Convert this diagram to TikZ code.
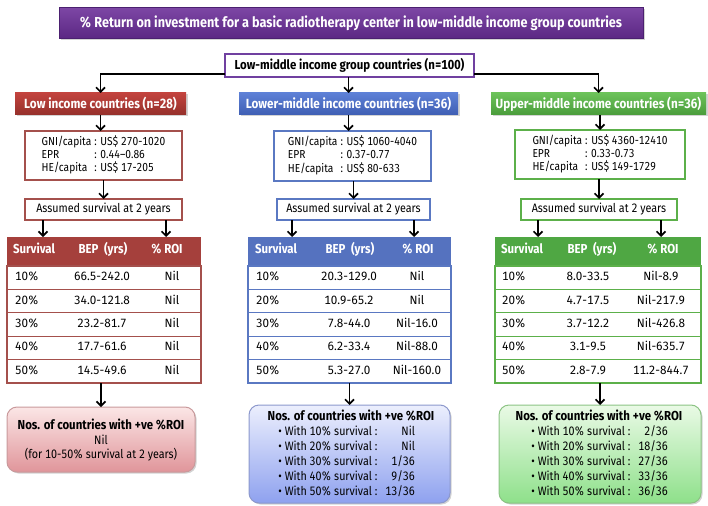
\documentclass[tikz,border=0pt]{standalone}
\usepackage{fontspec}
\setmainfont{Fira Sans}[FakeStretch=0.88, Numbers={Lining,Monospaced}]
\newfontfamily\cellfont{Fira Sans}[FakeStretch=0.97, Numbers={Lining,Monospaced}]
\usetikzlibrary{arrows.meta,shadows}
\definecolor{purpT}{HTML}{7D47A5}
\definecolor{purpB}{HTML}{5B2783}
\definecolor{purpD}{HTML}{4B2070}
\definecolor{purpL}{HTML}{7040A0}
\definecolor{redT}{HTML}{C2433E}
\definecolor{redB}{HTML}{95302B}
\definecolor{bluT}{HTML}{5D80D6}
\definecolor{bluB}{HTML}{3F5EB3}
\definecolor{grnT}{HTML}{6CC25A}
\definecolor{grnB}{HTML}{4A9C3B}
\definecolor{redH}{HTML}{A5403C}
\definecolor{redL}{HTML}{A4504C}
\definecolor{bluH}{HTML}{5572BF}
\definecolor{bluL}{HTML}{5A78C2}
\definecolor{grnH}{HTML}{4FA743}
\definecolor{grnL}{HTML}{5CB04A}
\definecolor{pinkT}{HTML}{FBE6E6}
\definecolor{pinkB}{HTML}{E0959A}
\definecolor{pinkD}{HTML}{C99A9C}
\definecolor{lbluT}{HTML}{ECEFFD}
\definecolor{lbluB}{HTML}{8EA1EF}
\definecolor{lbluD}{HTML}{8C98CC}
\definecolor{lgrnT}{HTML}{EAFAE6}
\definecolor{lgrnB}{HTML}{8EE08A}
\definecolor{lgrnD}{HTML}{8CC384}
\begin{document}
\begin{tikzpicture}[x=1pt,y=-1pt,
  every node/.style={inner sep=0pt, outer sep=0pt, font=\fontsize{12.2}{14}\selectfont},
  conn/.style={line width=1.7pt, -{Straight Barb[length=4.5pt,width=9pt]}},
  shad/.style={drop shadow={opacity=0.35, shadow xshift=1.5pt, shadow yshift=-1.5pt}},
  titlebox/.style={shad, draw=purpD, line width=0.6pt, top color=purpT, bottom color=purpB, text=white,
    font=\fontsize{14.4}{16}\selectfont\bfseries},
  topbox/.style={draw=purpL, line width=1.6pt, fill=white, font=\fontsize{13}{14}\selectfont\bfseries},
  catbox/.style={shad, minimum height=22, text=white, font=\fontsize{13.3}{14}\selectfont\bfseries},
  infobox/.style={line width=2pt, fill=white, font=\fontsize{11.6}{13}\selectfont},
  asbox/.style={line width=2pt, fill=white, minimum height=21},
  cell/.style={text height=8.5pt, text depth=2.5pt},
  dat/.style={cell, font=\fontsize{12}{14}\cellfont},
  hdr/.style={cell, text=white, font=\fontsize{13}{14}\selectfont\bfseries},
  botbox/.style={shad, rounded corners=10pt, line width=1pt},
  lst/.style={font=\fontsize{12.2}{15}\selectfont}
]
\useasboundingbox (0,0) rectangle (708,505);

% title and top level
\node[titlebox, minimum width=584, minimum height=31] (title) at (351,23)
  {\% Return on investment for a basic radiotherapy center in low-middle income group countries};
\node[topbox, minimum width=249, minimum height=23] (top) at (349.5,65.5) {Low-middle income group countries (n=100)};

\node[catbox, top color=redT, bottom color=redB, minimum width=171] (low) at (100.5,104) {Low income countries (n=28)};
\node[catbox, top color=bluT, bottom color=bluB, minimum width=219] (lmid) at (348.5,104) {Lower-middle income countries (n=36)};
\node[catbox, top color=grnT, bottom color=grnB, minimum width=215] (umid) at (598.5,104) {Upper-middle income countries (n=36)};

\draw[conn] ([yshift=3pt]top.south west) -| (low.north);
\draw[conn] (top.south -| lmid.north) -- (lmid.north);
\draw[conn] ([yshift=3pt]top.south east) -| (umid.north);

% info boxes
\node[infobox, draw=redL, minimum width=157, minimum height=49] (infoL) at (103.5,155.5)
  {\begin{tabular}{@{}l@{\hspace{3pt}}l@{}}GNI/capita & : US\$ 270-1020\\ EPR & : 0.44--0.86\\ HE/capita & : US\$ 17-205\end{tabular}};
\node[infobox, draw=bluL, minimum width=157, minimum height=50] (infoM) at (352.5,156)
  {\begin{tabular}{@{}l@{\hspace{3pt}}l@{}}GNI/capita & : US\$ 1060-4040\\ EPR & : 0.37-0.77\\ HE/capita & : US\$ 80-633\end{tabular}};
\node[infobox, draw=grnL, minimum width=170, minimum height=49] (infoR) at (600,154.5)
  {\begin{tabular}{@{}l@{\hspace{3pt}}l@{}}GNI/capita & : US\$ 4360-12410\\ EPR & : 0.33-0.73\\ HE/capita & : US\$ 149-1729\end{tabular}};

\draw[conn] (low.south) -- (low.south |- infoL.north);
\draw[conn] (lmid.south) -- (lmid.south |- infoM.north);
\draw[conn] (umid.south -| infoR.north) -- (infoR.north);

% assumed survival boxes
\node[asbox, draw=redL, minimum width=157] (asL) at (103.5,209.5) {Assumed survival at 2 years};
\node[asbox, draw=bluL, minimum width=153] (asM) at (353.5,209.5) {Assumed survival at 2 years};
\node[asbox, draw=grnL, minimum width=156] (asR) at (599,209.5) {Assumed survival at 2 years};

\draw[conn] (infoL.south -| asL.north) -- (asL.north);
\draw[conn] (infoM.south -| asM.north) -- (asM.north);
\draw[conn] (infoR.south -| asR.north) -- (asR.north);

% tables: headers
\node[fill=redH, minimum width=194, minimum height=29] (hL) at (104,251.5) {};
\node[fill=bluH, minimum width=203, minimum height=29] (hM) at (349.5,251.5) {};
\node[fill=grnH, minimum width=206, minimum height=29] (hR) at (598,251.5) {};

\foreach \i in {1,...,5}{
  \node[draw=redL, line width=1.2pt, minimum width=194, minimum height=23.4] (rL\i) at (104,{254.3+23.4*\i}) {};
  \node[draw=bluL, line width=1.2pt, minimum width=203, minimum height=23.4] (rM\i) at (349.5,{254.3+23.4*\i}) {};
  \node[draw=grnL, line width=1.2pt, minimum width=206, minimum height=23.4] (rR\i) at (598,{254.3+23.4*\i}) {};
}

\node[hdr, anchor=west] (hL1) at (13,250) {Survival};
\node[hdr] (hL2) at (103,250) {BEP\ \ (yrs)};
\node[hdr] (hL3) at (167,250) {\% ROI};
\node[hdr, anchor=west] (hM1) at (255,250) {Survival};
\node[hdr] (hM2) at (350,250) {BEP\ \ (yrs)};
\node[hdr] (hM3) at (418,250) {\% ROI};
\node[hdr, anchor=west] (hR1) at (501,250) {Survival};
\node[hdr] (hR2) at (592,250) {BEP\ \ (yrs)};
\node[hdr] (hR3) at (663,250) {\% ROI};

% arrows from assumed boxes to tables
\coordinate (aL1) at (43,228);
\coordinate (aL2) at (166,228);
\coordinate (aM1) at (292,228);
\coordinate (aM2) at (414,228);
\coordinate (aR1) at (538,228);
\coordinate (aR2) at (661,228);
\draw[conn] (aL1 |- asL.south) -- (aL1 |- hL.north);
\draw[conn] (aL2 |- asL.south) -- (aL2 |- hL.north);
\draw[conn] (aM1 |- asM.south) -- (aM1 |- hM.north);
\draw[conn] (aM2 |- asM.south) -- (aM2 |- hM.north);
\draw[conn] (aR1 |- asR.south) -- (aR1 |- hR.north);
\draw[conn] (aR2 |- asR.south) -- (aR2 |- hR.north);

% table data
\foreach \i/\s/\b/\r in {1/10/66.5-242.0/Nil, 2/20/34.0-121.8/Nil, 3/30/23.2-81.7/Nil, 4/40/17.7-61.6/Nil, 5/50/14.5-49.6/Nil}{
  \node[dat, anchor=west] (dL\i-1) at (15,{254.3+23.4*\i}) {\s\%};
  \node[dat] (dL\i-2) at (102,{254.3+23.4*\i}) {\b};
  \node[dat] (dL\i-3) at (172,{254.3+23.4*\i}) {\r};
}
\foreach \i/\s/\b/\r in {1/10/20.3-129.0/Nil, 2/20/10.9-65.2/Nil, 3/30/7.8-44.0/Nil-16.0, 4/40/6.2-33.4/Nil-88.0, 5/50/5.3-27.0/Nil-160.0}{
  \node[dat, anchor=west] (dM\i-1) at (256,{254.3+23.4*\i}) {\s\%};
  \node[dat] (dM\i-2) at (349,{254.3+23.4*\i}) {\b};
  \node[dat] (dM\i-3) at (417,{254.3+23.4*\i}) {\r};
}
\foreach \i/\s/\b/\r in {1/10/8.0-33.5/Nil-8.9, 2/20/4.7-17.5/Nil-217.9, 3/30/3.7-12.2/Nil-426.8, 4/40/3.1-9.5/Nil-635.7, 5/50/2.8-7.9/11.2-844.7}{
  \node[dat, anchor=west] (dR\i-1) at (502,{254.3+23.4*\i}) {\s\%};
  \node[dat] (dR\i-2) at (588,{254.3+23.4*\i}) {\b};
  \node[dat] (dR\i-3) at (661,{254.3+23.4*\i}) {\r};
}

% bottom boxes
\node[botbox, top color=pinkT, bottom color=pinkB, draw=pinkD, minimum width=188, minimum height=65] (bL) at (101,439.5) {};
\node[botbox, top color=lbluT, bottom color=lbluB, draw=lbluD, minimum width=201, minimum height=98] (bM) at (349.5,454) {};
\node[botbox, top color=lgrnT, bottom color=lgrnB, draw=lgrnD, minimum width=202, minimum height=98] (bR) at (600,454) {};

\draw[conn] (bL.north |- rL5.south) -- (bL.north);
\draw[conn] (bM.north |- rM5.south) -- (bM.north);
\draw[conn] (bR.north |- rR5.south) -- (bR.north);

\node[align=center, font=\fontsize{12.2}{14.5}\selectfont] (bLt) at (101,440.5)
  {{\fontsize{13}{14.5}\selectfont\bfseries Nos. of countries with +ve \%ROI}\\Nil\\(for 10-50\% survival at 2 years)};

\node[cell, font=\fontsize{13}{14}\selectfont\bfseries] (bMh) at (351,417) {Nos. of countries with +ve \%ROI};
\node[lst, anchor=east] (bMl) at (415,462)
  {\begin{tabular}{@{}l@{\hspace{8pt}}r@{}}\textbullet\ With 10\% survival : & Nil\\ \textbullet\ With 20\% survival : & Nil\\ \textbullet\ With 30\% survival : & 1/36\\ \textbullet\ With 40\% survival : & 9/36\\ \textbullet\ With 50\% survival : & 13/36\end{tabular}};

\node[cell, font=\fontsize{13}{14}\selectfont\bfseries] (bRh) at (599,417) {Nos. of countries with +ve \%ROI};
\node[lst, anchor=east] (bRl) at (668,462)
  {\begin{tabular}{@{}l@{\hspace{8pt}}r@{}}\textbullet\ With 10\% survival : & 2/36\\ \textbullet\ With 20\% survival : & 18/36\\ \textbullet\ With 30\% survival : & 27/36\\ \textbullet\ With 40\% survival : & 33/36\\ \textbullet\ With 50\% survival : & 36/36\end{tabular}};
\end{tikzpicture}
\end{document}
